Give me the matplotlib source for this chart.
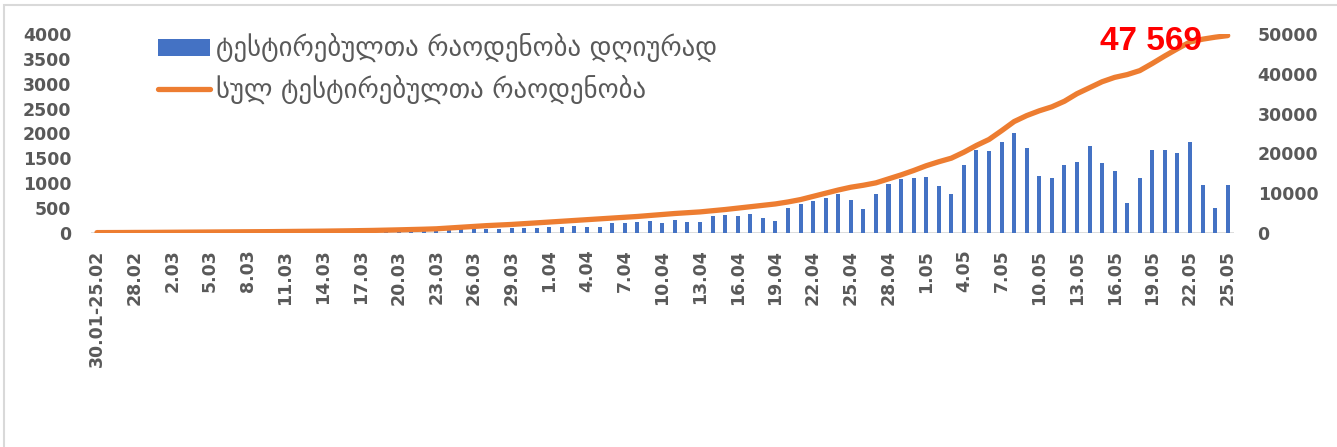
import numpy as np
import pandas as pd
import matplotlib
matplotlib.use("Agg")
import matplotlib.pyplot as plt
from matplotlib.patches import Rectangle, Patch
from matplotlib.lines import Line2D

plt.rcParams['font.family'] = ['DejaVu Sans']

# ---- data ----
first_label = "30.01-25.02"
days = pd.date_range("2020-02-26", "2020-05-25")
categories = [first_label] + [f"{d.day}.{d.month:02d}" for d in days]

daily_tests = [
    20, 5, 5, 10, 10, 10, 15, 15, 15, 20,
    20, 20, 25, 25, 25, 30, 30, 35, 35, 40,
    40, 45, 45, 50, 60, 60, 65, 70, 70, 80,
    80, 80, 75, 100, 100, 100, 120, 125, 150, 120,
    130, 200, 210, 230, 250, 200, 270, 230, 230, 340,
    360, 350, 380, 310, 250, 500, 590, 640, 710, 780,
    670, 490, 780, 980, 1090, 1110, 1130, 940, 780, 1370,
    1670, 1640, 1830, 2010, 1700, 1140, 1100, 1370, 1420, 1740,
    1400, 1250, 600, 1110, 1670, 1660, 1610, 1820, 970, 510,
    965,
]

total_tests = [
    100, 110, 120, 140, 150, 170, 190, 210, 230, 250,
    270, 290, 310, 330, 350, 380, 410, 440, 470, 510,
    550, 600, 650, 720, 790, 870, 950, 1050, 1250, 1450,
    1650, 1850, 2000, 2150, 2350, 2550, 2750, 2950, 3150, 3350,
    3550, 3750, 3950, 4150, 4400, 4650, 4900, 5100, 5300, 5600,
    5900, 6250, 6600, 6950, 7300, 7800, 8400, 9200, 10000, 10800,
    11500, 12000, 12600, 13600, 14600, 15700, 16900, 17900, 18800, 20300,
    22000, 23500, 25700, 28000, 29500, 30700, 31700, 33100, 35000, 36500,
    38000, 39100, 39800, 40800, 42600, 44500, 46300, 48000, 48700, 49200,
    49600,
]

label_daily = "ტესტირებულთა რაოდენობა დღიურად"
label_total = "სულ ტესტირებულთა რაოდენობა"
total_note = "47 569"

BLUE = "#4472C4"
ORANGE = "#ED7D31"
GREY = "#595959"

W, H = 1337, 447
fig = plt.figure(figsize=(W / 100, H / 100), dpi=100)

# slide frame
fig.patches.append(Rectangle((4 / W, -0.1), 1.2, 1 - 5 / H + 0.1,
                             transform=fig.transFigure, fill=False,
                             edgecolor="#D9D9D9", linewidth=1.5))

left, right = 90.7 / W, 1234 / W
bottom, top = 1 - 233 / H, 1 - 34 / H
ax = fig.add_axes([left, bottom, right - left, top - bottom])
ax2 = ax.twinx()

x = np.arange(len(categories))
ax.bar(x, daily_tests, width=0.32, color=BLUE, zorder=2)
ax2.plot(x, total_tests, color=ORANGE, linewidth=3.8, solid_capstyle="round", zorder=3)

ax.set_xlim(-0.5, len(categories) - 0.5)
ax.set_ylim(0, 4000)
ax2.set_ylim(0, 50000)
ax.set_yticks(np.arange(0, 4001, 500))
ax2.set_yticks(np.arange(0, 50001, 10000))

ax.set_xticks(x[::3])
ax.set_xticklabels(categories[::3], rotation=90)

for a in (ax, ax2):
    for s in a.spines.values():
        s.set_visible(False)
ax.axhline(0, color="#D9D9D9", linewidth=2, zorder=1)

ax.tick_params(axis="x", length=0, pad=12, labelsize=12.5, labelcolor=GREY)
ax.tick_params(axis="y", length=0, pad=14, labelsize=12.5, labelcolor=GREY)
ax2.tick_params(axis="y", length=0, pad=17, labelsize=12.5, labelcolor=GREY)
for lab in ax.get_xticklabels() + ax.get_yticklabels() + ax2.get_yticklabels():
    lab.set_fontweight("bold")
for lab in ax.get_xticklabels():
    lab.set_verticalalignment("top")

handles = [Patch(facecolor=BLUE, edgecolor="none"),
           Line2D([], [], color=ORANGE, linewidth=3.8, solid_capstyle="round")]
ax2.legend(handles, [label_daily, label_total], loc="upper left",
           bbox_to_anchor=(158 / W, 1 - 34 / H), bbox_transform=fig.transFigure,
           frameon=False, fontsize=19.3, labelcolor=GREY,
           handlelength=1.95, handleheight=0.6, handletextpad=0.2,
           labelspacing=0.46, borderpad=0, borderaxespad=0)

ax2.text(1151 / W, 1 - 42 / H, total_note, transform=fig.transFigure,
         ha="center", va="center", color="red", fontsize=24,
         fontweight="bold", family="Liberation Sans")

fig.savefig("out.png", dpi=100)
